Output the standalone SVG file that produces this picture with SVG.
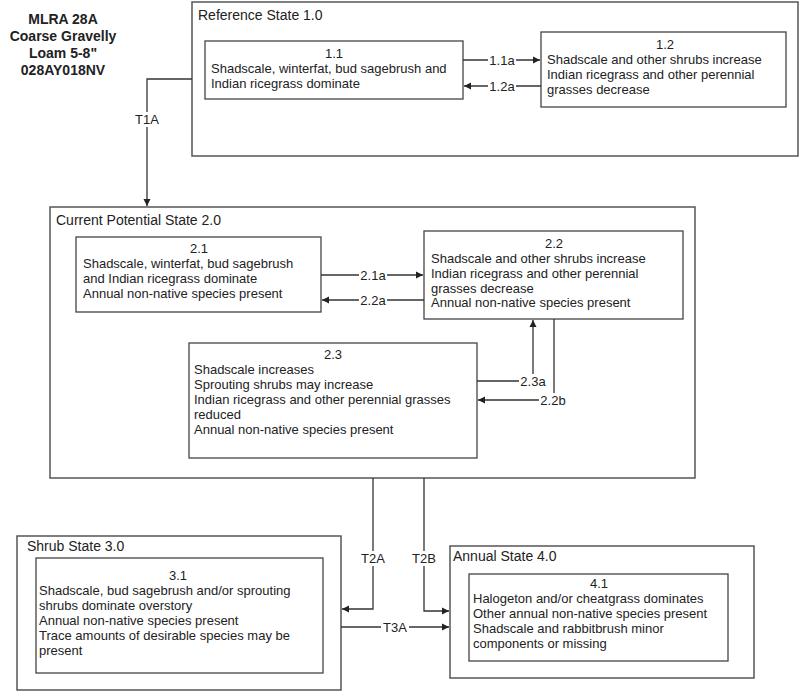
<svg xmlns="http://www.w3.org/2000/svg" width="800" height="692" viewBox="0 0 800 692">
<defs>
<marker id="ah" markerWidth="8" markerHeight="8" refX="7" refY="4" orient="auto" markerUnits="userSpaceOnUse">
<path d="M0,0.5 L7,4 L0,7.5 Z" fill="#222"/>
</marker>
<style>
.state{fill:#fff;stroke:#555;stroke-width:1.5}
.comm{fill:#fff;stroke:#444;stroke-width:1.3}
text{font-family:"Liberation Sans",Arial,sans-serif;fill:#222}
.t{font-size:14px}
.b{font-size:13px}
.n{font-size:13px;text-anchor:middle}
.hd{font-size:14px;font-weight:bold;text-anchor:middle}
.c{fill:none;stroke:#333;stroke-width:1.3}
.lb{font-size:13px;text-anchor:middle}
.bg{fill:#fff}
</style>
</defs>
<rect width="800" height="692" fill="#fff"/>
<g id="header">
<text class="hd" x="63" y="24">MLRA 28A</text>
<text class="hd" x="63" y="41">Coarse Gravelly</text>
<text class="hd" x="63" y="58">Loam 5-8"</text>
<text class="hd" x="63" y="75">028AY018NV</text>
</g>
<g id="state1">
<rect class="state" x="192" y="2" width="606" height="154"/>
<text class="t" x="198" y="20">Reference State 1.0</text>
</g>
<g id="node11">
<rect class="comm" x="205" y="41" width="258" height="58"/>
<text class="n" x="334" y="58">1.1</text>
<text class="b" x="211" y="73">Shadscale, winterfat, bud sagebrush and</text>
<text class="b" x="211" y="88">Indian ricegrass dominate</text>
</g>
<g id="node12">
<rect class="comm" x="541" y="32" width="245" height="75"/>
<text class="n" x="665" y="49">1.2</text>
<text class="b" x="547" y="64">Shadscale and other shrubs increase</text>
<text class="b" x="547" y="79">Indian ricegrass and other perennial</text>
<text class="b" x="547" y="94">grasses decrease</text>
</g>
<g id="state2">
<rect class="state" x="50" y="207" width="645" height="271"/>
<text class="t" x="56" y="225">Current Potential State 2.0</text>
</g>
<g id="node21">
<rect class="comm" x="76" y="237" width="245" height="75"/>
<text class="n" x="199" y="253">2.1</text>
<text class="b" x="83" y="268">Shadscale, winterfat, bud sagebrush</text>
<text class="b" x="83" y="283">and Indian ricegrass dominate</text>
<text class="b" x="83" y="298">Annual non-native species present</text>
</g>
<g id="node22">
<rect class="comm" x="424" y="231" width="259" height="88"/>
<text class="n" x="554" y="248">2.2</text>
<text class="b" x="431" y="263">Shadscale and other shrubs increase</text>
<text class="b" x="431" y="278">Indian ricegrass and other perennial</text>
<text class="b" x="431" y="293">grasses decrease</text>
<text class="b" x="431" y="307">Annual non-native species present</text>
</g>
<g id="node23">
<rect class="comm" x="189" y="343" width="288" height="115"/>
<text class="n" x="333" y="359">2.3</text>
<text class="b" x="194" y="374">Shadscale increases</text>
<text class="b" x="194" y="389">Sprouting shrubs may increase</text>
<text class="b" x="194" y="404">Indian ricegrass and other perennial grasses</text>
<text class="b" x="194" y="419">reduced</text>
<text class="b" x="194" y="434">Annual non-native species present</text>
</g>
<g id="state3">
<rect class="state" x="17" y="536" width="324" height="154"/>
<text class="t" x="27" y="551">Shrub State 3.0</text>
</g>
<g id="node31">
<rect class="comm" x="36" y="558" width="287" height="115"/>
<text class="n" x="178" y="580">3.1</text>
<text class="b" x="39" y="595">Shadscale, bud sagebrush and/or sprouting</text>
<text class="b" x="39" y="610">shrubs dominate overstory</text>
<text class="b" x="39" y="625">Annual non-native species present</text>
<text class="b" x="39" y="640">Trace amounts of desirable species may be</text>
<text class="b" x="39" y="655">present</text>
</g>
<g id="state4">
<rect class="state" x="450" y="546" width="304" height="132"/>
<text class="t" x="453" y="561">Annual State 4.0</text>
</g>
<g id="node41">
<rect class="comm" x="469" y="574" width="259" height="87"/>
<text class="n" x="599" y="588">4.1</text>
<text class="b" x="473" y="603">Halogeton and/or cheatgrass dominates</text>
<text class="b" x="473" y="618">Other annual non-native species present</text>
<text class="b" x="473" y="633">Shadscale and rabbitbrush minor</text>
<text class="b" x="473" y="648">components or missing</text>
</g>
<g id="connectors">
<path class="c" d="M463,60 H540" marker-end="url(#ah)"/>
<path class="c" d="M541,86 H464" marker-end="url(#ah)"/>
<path class="c" d="M192,79 H147 V206" marker-end="url(#ah)"/>
<path class="c" d="M321,275 H423" marker-end="url(#ah)"/>
<path class="c" d="M424,300 H322" marker-end="url(#ah)"/>
<path class="c" d="M477,381 H533 V320" marker-end="url(#ah)"/>
<path class="c" d="M554,319 V400 H478" marker-end="url(#ah)"/>
<path class="c" d="M373,478 V609 H342" marker-end="url(#ah)"/>
<path class="c" d="M424,478 V611 H449" marker-end="url(#ah)"/>
<path class="c" d="M341,627 H449" marker-end="url(#ah)"/>
<rect class="bg" x="488" y="53" width="28" height="14"/>
<rect class="bg" x="488" y="79" width="28" height="14"/>
<rect class="bg" x="133" y="112" width="28" height="15"/>
<rect class="bg" x="359" y="268" width="28" height="14"/>
<rect class="bg" x="359" y="293" width="28" height="14"/>
<rect class="bg" x="519" y="374" width="28" height="14"/>
<rect class="bg" x="539" y="393" width="28" height="14"/>
<rect class="bg" x="359" y="551" width="28" height="15"/>
<rect class="bg" x="410" y="551" width="28" height="15"/>
<rect class="bg" x="381" y="620" width="28" height="14"/>
<text class="lb" x="502" y="64.5">1.1a</text>
<text class="lb" x="502" y="90.5">1.2a</text>
<text class="lb" x="147" y="124">T1A</text>
<text class="lb" x="373" y="279.5">2.1a</text>
<text class="lb" x="373" y="304.5">2.2a</text>
<text class="lb" x="533" y="385.5">2.3a</text>
<text class="lb" x="553" y="404.5">2.2b</text>
<text class="lb" x="373" y="563">T2A</text>
<text class="lb" x="424" y="563">T2B</text>
<text class="lb" x="395" y="631.5">T3A</text>
</g>
</svg>
